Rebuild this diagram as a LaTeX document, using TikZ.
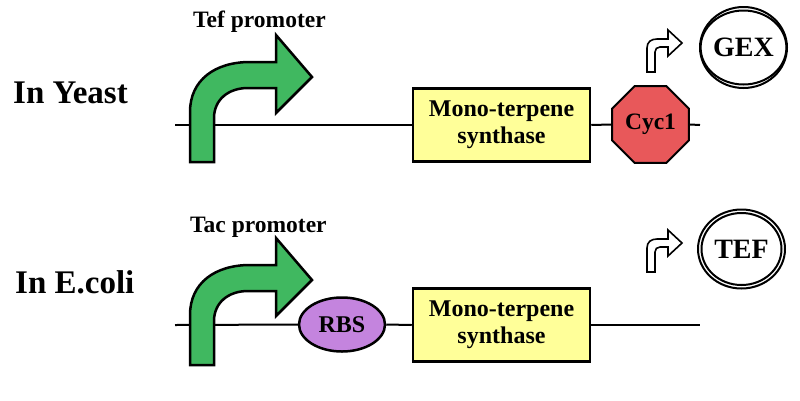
\documentclass[tikz,border=0pt]{standalone}
\usepackage{fontspec}
\setmainfont{Liberation Serif}
\usetikzlibrary{shapes.geometric}
\definecolor{promogreen}{RGB}{64,184,96}
\definecolor{boxyellow}{RGB}{255,255,153}
\definecolor{stopred}{RGB}{232,88,90}
\definecolor{rbspurple}{RGB}{196,132,222}
\tikzset{
  label/.style={font=\bfseries\fontsize{33}{36}\selectfont, anchor=base west, inner sep=0},
  promolabel/.style={font=\bfseries\fontsize{23.5}{26}\selectfont, anchor=base west, inner sep=0},
  genebox/.style={draw, line width=2.5pt, fill=boxyellow, minimum width=177pt, minimum height=73pt,
    align=center, inner sep=0, font=\bfseries\fontsize{24}{27}\selectfont},
  dna/.style={line width=2pt},
  promo/.style={draw, line width=2.5pt, fill=promogreen, line join=miter},
  smallarrow/.style={draw, line width=1.6pt, fill=white, line join=miter},
  term/.style={regular polygon, regular polygon sides=8, draw, line width=2pt, fill=stopred,
    minimum size=83pt, inner sep=0, font=\bfseries\fontsize{23.5}{26}\selectfont},
  rbs/.style={ellipse, draw, line width=2.5pt, fill=rbspurple, minimum width=86pt, minimum height=54pt,
    inner sep=0, font=\bfseries\fontsize{24}{26}\selectfont},
  outerring/.style={ellipse, draw, line width=2pt, inner sep=0, font=\bfseries\fontsize{28}{30}\selectfont},
}
\begin{document}
\begin{tikzpicture}[x=1pt,y=-1pt]
\useasboundingbox (0,0) rectangle (800,400);
\fill[white] (0,0) rectangle (800,400);

% ---------- Yeast row ----------
\node[label] (yeast) at (13,103) {In Yeast};
\node[promolabel] (tef) at (193,27) {Tef promoter};
\coordinate (ys) at (175,125);
\coordinate (ye) at (700,125);
\node[genebox] (ybox) at (501.5,125) {Mono-terpene\\synthase};
\node[term] (cyc) at (650.5,124.5) {Cyc1};
\draw[dna] (ys) -- (ybox.west);
\draw[dna] (ybox.east) -- (cyc.west);
\draw[dna] (cyc.east) -- (ye);

\path[promo] (190,162) -- (190,112) .. controls (190,80) and (215,62) .. (250,62) -- (276,62) -- (276,35) -- (312,77) -- (276,113) -- (276,88) -- (248,88) .. controls (228,88) and (214,100) .. (214,118) -- (214,162) -- cycle;

\path[smallarrow] (647,72) -- (647,48) .. controls (647,42) and (651,39) .. (657,39) -- (668,39) -- (668,30) -- (682,43) -- (668,56) -- (668,47) -- (660,47) .. controls (657,47) and (655,49) .. (655,52) -- (655,72) -- cycle;

\node[outerring, minimum width=87pt, minimum height=81pt] (gexo) at (743.5,47.5) {};
\node[outerring, minimum width=80pt, minimum height=74pt] (gex) at (743.5,47.5) {GEX};

% ---------- E. coli row ----------
\node[label] (ecoli) at (15,293) {In E.coli};
\node[promolabel] (tac) at (190,232) {Tac promoter};
\coordinate (es) at (175,325);
\coordinate (ee) at (700,325);
\node[rbs] (rbsn) at (342,324.5) {RBS};
\node[genebox] (ebox) at (501.5,325) {Mono-terpene\\synthase};
\draw[dna] (es) -- (rbsn.west);
\draw[dna] (rbsn.east) -- (ebox.west);
\draw[dna] (ebox.east) -- (ee);

\begin{scope}[shift={(0,203)}]
\path[promo] (190,162) -- (190,112) .. controls (190,80) and (215,62) .. (250,62) -- (276,62) -- (276,35) -- (312,77) -- (276,113) -- (276,88) -- (248,88) .. controls (228,88) and (214,100) .. (214,118) -- (214,162) -- cycle;
\end{scope}

\begin{scope}[shift={(0,200)}]
\path[smallarrow] (647,72) -- (647,48) .. controls (647,42) and (651,39) .. (657,39) -- (668,39) -- (668,30) -- (682,43) -- (668,56) -- (668,47) -- (660,47) .. controls (657,47) and (655,49) .. (655,52) -- (655,72) -- cycle;
\end{scope}

\node[outerring, minimum width=87pt, minimum height=79pt] (tefo) at (741.5,249) {};
\node[outerring, minimum width=80pt, minimum height=72pt] (tefn) at (741.5,249) {TEF};
\end{tikzpicture}
\end{document}
